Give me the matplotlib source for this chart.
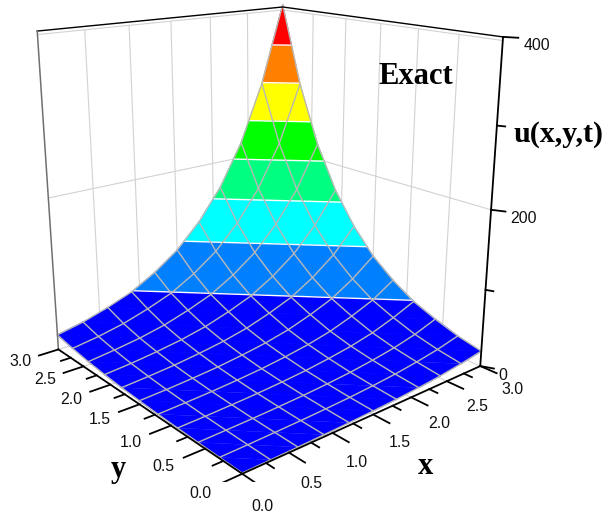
import numpy as np
import matplotlib
matplotlib.use("Agg")
import matplotlib.pyplot as plt
from mpl_toolkits.mplot3d.art3d import Poly3DCollection, Line3DCollection

W, H = 609, 518
plt.rcParams['font.family'] = ['Liberation Sans', 'DejaVu Sans']

x_vals = [0.0, 0.3, 0.6, 0.9, 1.2, 1.5, 1.8, 2.1, 2.4, 2.7, 3.0]
y_vals = [0.0, 0.3, 0.6, 0.9, 1.2, 1.5, 1.8, 2.1, 2.4, 2.7, 3.0]
# rows are y, columns are x
u_vals = [
    [1, 1.3, 1.8, 2.5, 3.3, 4.5, 6, 8.2, 11, 15, 20],
    [1.3, 1.8, 2.5, 3.3, 4.5, 6, 8.2, 11, 15, 20, 27],
    [1.8, 2.5, 3.3, 4.5, 6, 8.2, 11, 15, 20, 27, 37],
    [2.5, 3.3, 4.5, 6, 8.2, 11, 15, 20, 27, 37, 49],
    [3.3, 4.5, 6, 8.2, 11, 15, 20, 27, 37, 49, 67],
    [4.5, 6, 8.2, 11, 15, 20, 27, 37, 49, 67, 90],
    [6, 8.2, 11, 15, 20, 27, 37, 49, 67, 90, 122],
    [8.2, 11, 15, 20, 27, 37, 49, 67, 90, 122, 164],
    [11, 15, 20, 27, 37, 49, 67, 90, 122, 164, 221],
    [15, 20, 27, 37, 49, 67, 90, 122, 164, 221, 299],
    [20, 27, 37, 49, 67, 90, 122, 164, 221, 299, 403],
]
levels = [0, 50, 100, 150, 200, 250, 300, 350, 410]
band_colors = ['#0000ff', '#0080ff', '#00ffff', '#00ff80',
               '#00ff00', '#ffff00', '#ff8000', '#ff0000']
xy_ticks = [0.0, 0.5, 1.0, 1.5, 2.0, 2.5, 3.0]
xy_minor = [0.25, 0.75, 1.25, 1.75, 2.25, 2.75]
z_ticks = [0, 200, 400]
z_minor = [100, 300]


def clip_poly(pts, level, keep_above):
    out = []
    n = len(pts)
    for i in range(n):
        a, b = pts[i], pts[(i + 1) % n]
        a_in = a[2] >= level if keep_above else a[2] <= level
        b_in = b[2] >= level if keep_above else b[2] <= level
        if a_in:
            out.append(a)
        if a_in != b_in:
            t = (level - a[2]) / (b[2] - a[2])
            out.append(a + t * (b - a))
    return out


def level_segment(tri, level):
    pts = []
    for i in range(3):
        a, b = tri[i], tri[(i + 1) % 3]
        if (a[2] - level) * (b[2] - level) < 0:
            t = (level - a[2]) / (b[2] - a[2])
            pts.append(a + t * (b - a))
    return pts if len(pts) == 2 else None


fig = plt.figure(figsize=(W / 100, H / 100), dpi=100)
# camera and axes box were fitted to the corners of the box in the picture
S, left, top = 542.2, -12.8, 482.2
ax = fig.add_axes([left / W, (H - top) / H, S / W, S / H], projection='3d')
ax.set_xlim(0, 3, view_margin=0)
ax.set_ylim(0, 3, view_margin=0)
ax.set_zlim(0, 400, view_margin=0)
ax.set_axis_off()
ax.patch.set_alpha(0)
ax.computed_zorder = False
ax.view_init(elev=17.412, azim=-129.905)
ax.set_proj_type('persp', focal_length=0.349)
ax.set_box_aspect((1, 1, 1.077))

X, Y = np.meshgrid(np.array(x_vals), np.array(y_vals))
Z = np.array(u_vals, float)

grid_kw = dict(color='#d2d2d2', lw=0.8, zorder=1)
for t in xy_ticks[1:-1]:
    ax.plot([t, t], [3, 3], [0, 396], **grid_kw)
    ax.plot([3, 3], [t, t], [0, 396], **grid_kw)
    ax.plot([t, t], [0, 3], [0, 0], **grid_kw)
    ax.plot([0, 3], [t, t], [0, 0], **grid_kw)
for z in [200, 396]:
    ax.plot([0, 3], [3, 3], [z, z], **grid_kw)
    ax.plot([3, 3], [0, 3], [z, z], **grid_kw)
ax.plot([3, 3], [3, 0], [0, 0], **grid_kw)
ax.plot([0, 3], [3, 3], [0, 0], **grid_kw)

polys, colors, widths, white_segs = [], [], [], []
for i in range(len(y_vals) - 1):
    for j in range(len(x_vals) - 1):
        p00 = np.array([X[i, j], Y[i, j], Z[i, j]])
        p10 = np.array([X[i, j + 1], Y[i, j + 1], Z[i, j + 1]])
        p01 = np.array([X[i + 1, j], Y[i + 1, j], Z[i + 1, j]])
        p11 = np.array([X[i + 1, j + 1], Y[i + 1, j + 1], Z[i + 1, j + 1]])
        for tri in ([p00, p10, p01], [p10, p11, p01]):
            for k, col in enumerate(band_colors):
                poly = clip_poly(tri, levels[k], True)
                if poly:
                    poly = clip_poly(poly, levels[k + 1], False)
                if len(poly) >= 3:
                    polys.append(np.array(poly))
                    colors.append(col)
                    # the dark band has no visible seams in the picture
                    widths.append(0.7 if k == 0 else 0.2)
            for lev in levels[1:-1]:
                seg = level_segment(tri, lev)
                if seg:
                    white_segs.append(seg)

surf = Poly3DCollection(polys, facecolors=colors, edgecolors=colors, linewidths=widths, zorder=2)
ax.add_collection3d(surf)
ax.add_collection3d(Line3DCollection(white_segs, colors='white', linewidths=1.0, zorder=3))
for i in range(len(y_vals)):
    ax.plot(X[i], Y[i], Z[i], color='#b8b8b8', lw=1.0, zorder=4)
    ax.plot(X[:, i], Y[:, i], Z[:, i], color='#b8b8b8', lw=1.0, zorder=4)

frame = dict(color='black', lw=1.3, zorder=5)
ax.plot([0, 3], [0, 0], [0, 0], **frame)
ax.plot([0, 0], [0, 3], [0, 0], **frame)
ax.plot([3, 3], [0, 0], [0, 400], **frame)
ax.plot([0, 3, 3], [3, 3, 0], [400, 400, 400], color='black', lw=1.0, zorder=5)
ax.plot([0, 0], [3, 3], [0, 400], color='#707070', lw=1.1, zorder=5)

tick = dict(color='black', lw=1.3, zorder=5)
for t in xy_ticks:
    ax.plot([t, t], [0, -0.2], [0, 0], **tick)
    ax.plot([0, -0.22], [t, t], [0, 0], **tick)
    ax.text(t, -0.25 - 0.05 * t, -22 + 3.3 * t, f"{t:.1f}", fontsize=11.4,
            ha='center', va='center', color='#111111')
    ax.text(-0.42, t, -1, f"{t:.1f}", fontsize=11.4, ha='center', va='center', color='#111111')
for t in xy_minor:
    ax.plot([t, t], [0, -0.1], [0, 0], **tick)
    ax.plot([0, -0.11], [t, t], [0, 0], **tick)
for z in z_ticks:
    ax.plot([3, 3.06], [0, -0.12], [z, z], **tick)
    ax.text(3.09, -0.16, z - 8, str(z), fontsize=11.4, ha='left', va='center', color='#111111')
for z in z_minor:
    ax.plot([3, 3.03], [0, -0.07], [z, z], **tick)

serif = dict(family=['Liberation Serif', 'DejaVu Serif'], weight='bold', ha='center', va='center', color='black')
fig.text(416 / W, 1 - 76 / H, "Exact", fontsize=22, **serif)
fig.text(559 / W, 1 - 135 / H, "u(x,y,t)", fontsize=21.6, **serif)
fig.text(118 / W, 1 - 469 / H, "y", fontsize=22, **serif)
fig.text(426 / W, 1 - 466 / H, "x", fontsize=22, **serif)

fig.savefig("out.png", dpi=100)
